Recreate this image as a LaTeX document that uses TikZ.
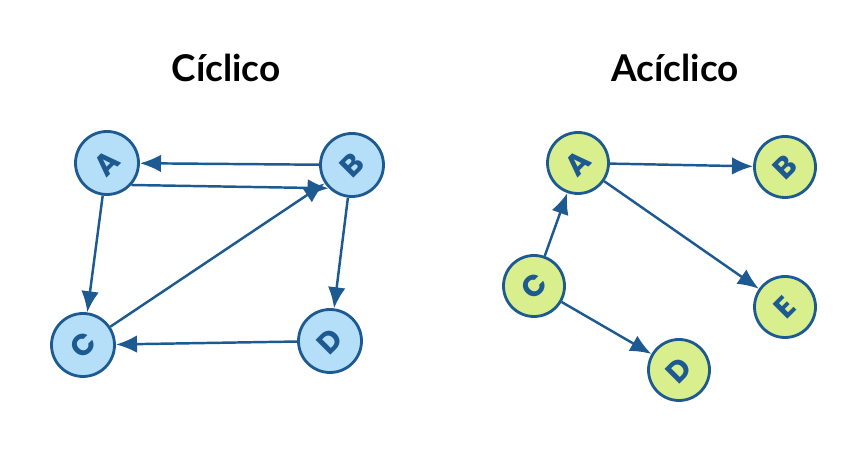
\documentclass[tikz,border=0pt]{standalone}
\usepackage{fontspec}
\setmainfont{Lato}
\newfontfamily\letterfont{Poppins}
\usetikzlibrary{arrows.meta}
\definecolor{edgeblue}{HTML}{1D5A91}
\definecolor{cycfill}{HTML}{B5DEF8}
\definecolor{acyfill}{HTML}{D9EE8C}
\newcommand{\tilted}[1]{\rotatebox{45}{#1}}
\begin{document}
\begin{tikzpicture}[
	vert/.style={circle,draw=edgeblue,line width=1.6pt,minimum size=1.26cm,inner sep=0pt,text=edgeblue,font=\letterfont\bfseries\fontsize{17}{17}\selectfont},
	cyc/.style={vert,fill=cycfill},
	acy/.style={vert,fill=acyfill,minimum size=1.22cm},
	link/.style={draw=edgeblue,line width=1.4pt,-{Latex[length=12pt,width=10pt]}},
	title/.style={font=\bfseries\fontsize{21}{21}\selectfont}]
			\useasboundingbox (0,0) rectangle (17.32,9.28);
			\node[title] (tc) at (4.52,7.92) {Cíclico};
			\node[title] (ta) at (13.50,7.92) {Acíclico};
			\node[cyc] (ca) at (2.14,6.02) {\tilted{A}};
			\node[cyc] (cb) at (7.04,5.98) {\tilted{B}};
			\node[cyc] (cc) at (1.66,2.38) {\tilted{C}};
			\node[cyc] (cd) at (6.60,2.46) {\tilted{D}};
			\draw[link] (cb) -- (ca);
			\draw[link] (ca.-42) -- (cb.-135);
			\draw[link] (ca) -- (cc);
			\draw[link] (cc) -- (cb);
			\draw[link] (cb) -- (cd);
			\draw[link] (cd) -- (cc);
			\node[acy] (aa) at (11.56,6.02) {\tilted{A}};
			\node[acy] (ab) at (15.70,5.94) {\tilted{B}};
			\node[acy] (ac) at (10.68,3.56) {\tilted{C}};
			\node[acy] (ae) at (15.70,3.14) {\tilted{E}};
			\node[acy] (ad) at (13.58,1.88) {\tilted{D}};
			\draw[link] (aa) -- (ab);
			\draw[link] (aa) -- (ae);
			\draw[link] (ac) -- (aa);
			\draw[link] (ac) -- (ad);
		\end{tikzpicture}
\end{document}
